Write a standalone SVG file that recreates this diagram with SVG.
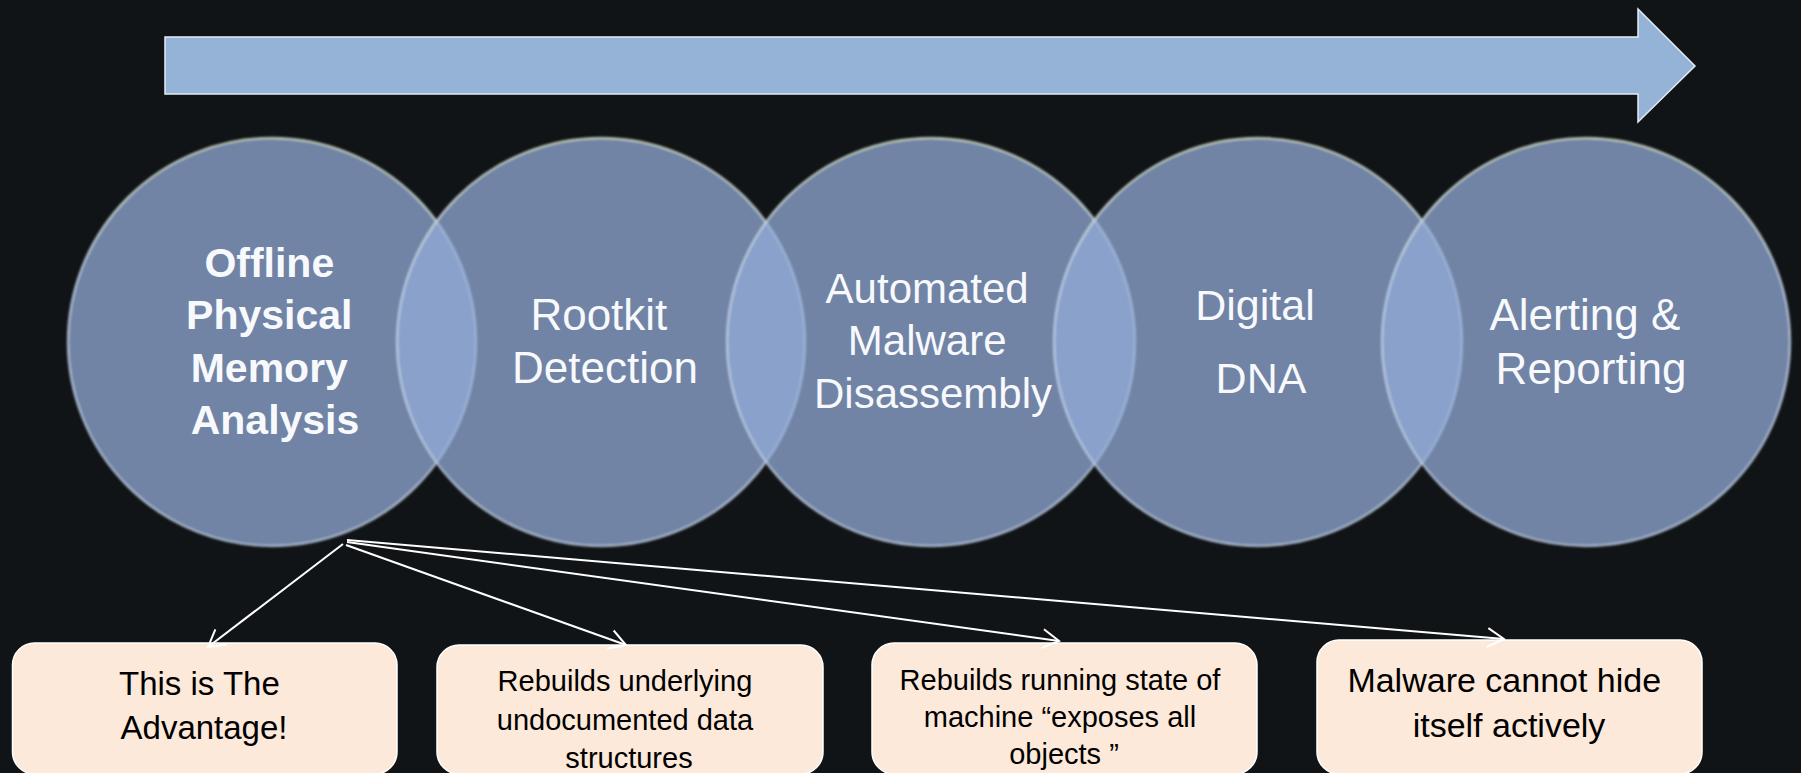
<svg xmlns="http://www.w3.org/2000/svg" width="1801" height="773" viewBox="0 0 1801 773">
  <defs>
    <style>
      .bg { fill: #111417; }
      .flow { fill: #95b3d7; stroke: #e4ebf4; stroke-width: 1.5; }
      .stage { fill: #93add9; fill-opacity: 0.735; stroke: url(#rim); stroke-width: 2.5; stroke-opacity: 0.75; filter: url(#soft); }
      .stage-label { font-family: "Liberation Sans", Arial, sans-serif; fill: #f7f9fc; text-anchor: middle; }
      .note { fill: #fde9d9; stroke: #ffffff; stroke-width: 1.5; }
      .note-label { font-family: "Liberation Sans", Arial, sans-serif; fill: #000000; text-anchor: middle; }
      .link { fill: none; stroke: #ffffff; stroke-width: 2; marker-end: url(#open-arrow); }
    </style>
    <linearGradient id="rim" x1="0" y1="0" x2="0" y2="1">
      <stop offset="0" stop-color="#d4e0c4"/>
      <stop offset="0.35" stop-color="#c3d2ea"/>
      <stop offset="1" stop-color="#bccbe0"/>
    </linearGradient>
    <filter id="soft" x="-5%" y="-5%" width="110%" height="110%">
      <feGaussianBlur stdDeviation="1.3"/>
    </filter>
    <marker id="open-arrow" markerUnits="userSpaceOnUse" markerWidth="24" markerHeight="24" viewBox="-20 -12 24 24" refX="0" refY="0" orient="auto">
      <path d="M -16.5 -9.5 L 0 0 L -16.5 9.5" fill="none" stroke="#ffffff" stroke-width="2"/>
    </marker>
  </defs>

  <rect class="bg" x="0" y="0" width="1801" height="773"/>

  <!-- process direction arrow -->
  <g id="flow-arrow">
    <polygon class="flow" points="165,37 1638,37 1638,9 1695,66 1638,122 1638,94 165,94"/>
  </g>

  <!-- overlapping stage circles -->
  <g id="stage-offline">
    <circle class="stage" cx="272" cy="342" r="204"/>
    <text class="stage-label" font-size="41" font-weight="bold">
      <tspan x="275" y="277">Offline</tspan>
      <tspan x="275" y="329">Physical</tspan>
      <tspan x="275" y="382">Memory</tspan>
      <tspan x="275" y="434">Analysis</tspan>
    </text>
  </g>
  <g id="stage-rootkit">
    <circle class="stage" cx="601" cy="342" r="204"/>
    <text class="stage-label" font-size="44">
      <tspan x="605" y="330">Rootkit</tspan>
      <tspan x="605" y="383">Detection</tspan>
    </text>
  </g>
  <g id="stage-disassembly">
    <circle class="stage" cx="931" cy="342" r="204"/>
    <text class="stage-label" font-size="42">
      <tspan x="933" y="303">Automated</tspan>
      <tspan x="933" y="355">Malware</tspan>
      <tspan x="933" y="408">Disassembly</tspan>
    </text>
  </g>
  <g id="stage-dna">
    <circle class="stage" cx="1258" cy="342" r="204"/>
    <text class="stage-label" font-size="43">
      <tspan x="1261" y="320">Digital</tspan>
      <tspan x="1261" y="393">DNA</tspan>
    </text>
  </g>
  <g id="stage-alerting">
    <circle class="stage" cx="1586" cy="342" r="204"/>
    <text class="stage-label" font-size="44">
      <tspan x="1591" y="330">Alerting &amp;</tspan>
      <tspan x="1591" y="384">Reporting</tspan>
    </text>
  </g>

  <!-- callout boxes -->
  <g id="note-advantage">
    <rect class="note" x="12.5" y="643" width="384.5" height="131" rx="22"/>
    <text class="note-label" font-size="33">
      <tspan x="204" y="695">This is The</tspan>
      <tspan x="204" y="739">Advantage!</tspan>
    </text>
  </g>
  <g id="note-structures">
    <rect class="note" x="437" y="645" width="386" height="129" rx="22"/>
    <text class="note-label" font-size="29">
      <tspan x="629" y="691">Rebuilds underlying</tspan>
      <tspan x="629" y="730">undocumented data</tspan>
      <tspan x="629" y="768">structures</tspan>
    </text>
  </g>
  <g id="note-state">
    <rect class="note" x="872" y="643" width="385" height="131" rx="22"/>
    <text class="note-label" font-size="29">
      <tspan x="1064" y="690">Rebuilds running state of</tspan>
      <tspan x="1064" y="727">machine “exposes all</tspan>
      <tspan x="1064" y="764">objects ”</tspan>
    </text>
  </g>
  <g id="note-hide">
    <rect class="note" x="1317" y="640" width="385" height="134" rx="22"/>
    <text class="note-label" font-size="34">
      <tspan x="1509" y="692">Malware cannot hide</tspan>
      <tspan x="1509" y="737">itself actively</tspan>
    </text>
  </g>

  <!-- connectors from the first stage to the callouts -->
  <g id="connectors">
    <line class="link" x1="343" y1="544" x2="208" y2="647"/>
    <line class="link" x1="346" y1="545" x2="626" y2="645"/>
    <line class="link" x1="347" y1="542" x2="1059" y2="641"/>
    <line class="link" x1="347" y1="540" x2="1504" y2="639"/>
  </g>
</svg>
